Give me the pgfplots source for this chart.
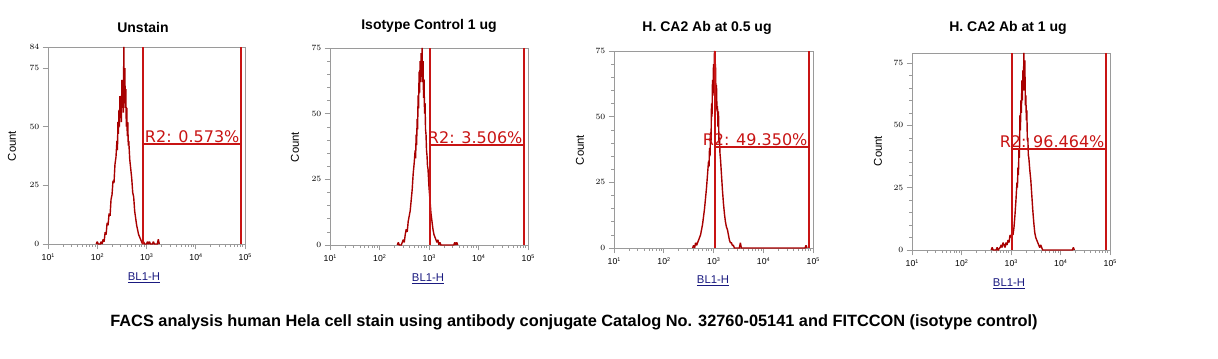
\documentclass[border=0pt]{standalone}
\usepackage{pgfplots}
\pgfplotsset{compat=1.18}
\usepackage{pgfplotstable}
\usepackage{fontspec}
\setmainfont{Liberation Sans}
\newfontfamily\rfont{DejaVu Sans}
\definecolor{histred}{HTML}{A80000}
\definecolor{gatered}{HTML}{C81414}
\definecolor{axgray}{HTML}{9A9A9A}
\definecolor{lblue}{HTML}{1A1A80}

\pgfplotstableread{
e c
1.98 0
2.00 1
2.02 0
2.06 0
2.08 1
2.10 0
2.12 2
2.14 1
2.16 5
2.18 4
2.20 9
2.22 8
2.24 13
2.26 12
2.28 19
2.30 21
2.32 27
2.34 26
2.36 34
2.38 37
2.40 44
2.41 40
2.42 52
2.43 47
2.44 57
2.45 50
2.46 63
2.47 55
2.48 62
2.49 52
2.50 70
2.51 58
2.52 68
2.53 56
2.54 84
2.55 60
2.56 75
2.57 58
2.58 66
2.59 50
2.60 58
2.61 46
2.62 52
2.63 42
2.64 44
2.66 36
2.68 32
2.70 28
2.72 22
2.74 20
2.76 14
2.78 11
2.80 8
2.82 6
2.84 4
2.86 3
2.88 2
2.90 1
2.92 0
2.94 1
2.96 0
3.00 0
3.02 1
3.04 0
3.06 1
3.08 0
3.12 0
3.14 1
3.16 0
3.22 0
3.24 2
3.26 0
}\histA

\pgfplotstableread{
e c
2.36 0
2.38 1
2.40 0
2.44 0
2.46 1
2.48 2
2.50 1
2.52 4
2.54 6
2.56 5
2.58 9
2.60 11
2.62 13
2.64 17
2.66 21
2.68 27
2.70 31
2.72 36
2.73 33
2.74 42
2.75 38
2.76 48
2.77 44
2.78 57
2.79 52
2.80 66
2.81 58
2.82 70
2.83 62
2.84 73
2.85 64
2.86 75
2.87 62
2.88 70
2.89 56
2.90 63
2.91 50
2.92 54
2.93 44
2.94 42
2.95 36
2.96 34
2.97 30
2.98 29
3.00 22
3.02 17
3.04 12
3.06 9
3.08 6
3.10 4
3.12 3
3.14 2
3.16 1
3.18 2
3.20 0
3.22 1
3.24 0
3.50 0
3.52 1
3.54 0
3.56 1
3.58 0
}\histB

\pgfplotstableread{
e c
2.58 0
2.60 1
2.62 0
2.64 2
2.66 1
2.68 2
2.70 3
2.72 4
2.74 5
2.76 7
2.78 9
2.80 12
2.82 15
2.84 19
2.86 23
2.88 28
2.90 33
2.91 31
2.92 38
2.93 35
2.94 44
2.95 40
2.96 55
2.97 50
2.98 64
2.99 58
3.00 70
3.01 66
3.02 75
3.03 64
3.04 70
3.05 58
3.06 62
3.07 52
3.08 54
3.09 46
3.10 52
3.11 40
3.12 42
3.13 36
3.14 34
3.16 28
3.18 22
3.20 17
3.22 13
3.24 10
3.26 8
3.28 7
3.30 5
3.32 3
3.34 2
3.36 2
3.38 1
3.40 1
3.42 0
3.52 0
3.54 2
3.56 0
4.84 0
4.86 1
4.88 0
}\histC

\pgfplotstableread{
e c
2.60 0
2.62 1
2.64 0
2.70 0
2.72 1
2.74 0
2.78 1
2.80 2
2.82 1
2.84 3
2.86 2
2.88 1
2.90 3
2.92 2
2.94 4
2.96 3
2.98 6
3.00 5
3.02 7
3.04 6
3.06 9
3.08 14
3.10 20
3.12 27
3.13 25
3.14 33
3.15 30
3.16 40
3.17 37
3.18 54
3.19 48
3.20 60
3.21 55
3.22 68
3.23 60
3.24 72
3.25 64
3.26 79
3.27 66
3.28 76
3.29 58
3.30 62
3.31 52
3.32 56
3.33 44
3.34 45
3.35 38
3.36 37
3.38 32
3.40 28
3.42 22
3.44 16
3.46 11
3.48 7
3.50 5
3.52 4
3.54 3
3.56 2
3.58 1
3.60 2
3.62 1
3.64 0
4.24 0
4.26 1
4.28 0
}\histD

\newcommand{\dec}[1]{10\raisebox{0.55ex}{\fontsize{4}{4}\selectfont #1}}

\tikzset{
  histsty/.style={draw=histred, line width=1.05pt, line join=miter, miter limit=2},
  gatesty/.style={gatered, line width=1.4pt},
}

\pgfplotsset{
  facs/.style={
    scale only axis,
    width=148pt, height=147.75pt,
    anchor=south west,
    xmin=1, xmax=5, ymin=0,
    axis line style={axgray, line width=0.5pt},
    xtick={1,2,3,4,5},
    xticklabels={\dec{1},\dec{2},\dec{3},\dec{4},\dec{5}},
    minor xtick={1.301,1.477,1.602,1.699,1.778,1.845,1.903,1.954,
                 2.301,2.477,2.602,2.699,2.778,2.845,2.903,2.954,
                 3.301,3.477,3.602,3.699,3.778,3.845,3.903,3.954,
                 4.301,4.477,4.602,4.699,4.778,4.845,4.903,4.954},
    tick align=outside,
    tick style={axgray, line width=0.4pt},
    major tick length=4pt,
    minor tick length=2pt,
    xtick pos=bottom, ytick pos=left,
    minor y tick num=4,
    tick label style={font=\fontsize{6.5}{6.5}\selectfont, black},
    xticklabel style={yshift=0pt},
    yticklabel style={xshift=1pt},
    clip=false,
  },
}

\begin{document}
\begin{tikzpicture}
\path[use as bounding box] (0,0) rectangle (913.5pt,269.25pt);

% Panel 1
\begin{axis}[facs, at={(36pt,86.25pt)}, width=147.75pt, ymax=84, ytick={0,25,50,75,84}]
\addplot[histsty] table[x=e,y=c] {\histA};
\draw[gatesty] (axis cs:2.93,0) -- (axis cs:2.93,84);
\draw[gatesty] (axis cs:4.92,0) -- (axis cs:4.92,84);
\draw[gatesty] (axis cs:2.93,42.6) -- (axis cs:4.92,42.6);
\node[anchor=south east, inner sep=1pt, gatered, font=\rfont\fontsize{12}{12}\selectfont] at (axis cs:4.92,42.6) {R2: 0.573\%};
\end{axis}

% Panel 2
\begin{axis}[facs, at={(247.5pt,85.5pt)}, width=148.5pt, ymax=75, ytick={0,25,50,75}]
\addplot[histsty] table[x=e,y=c] {\histB};
\draw[gatesty] (axis cs:3.02,0) -- (axis cs:3.02,75);
\draw[gatesty] (axis cs:4.92,0) -- (axis cs:4.92,75);
\draw[gatesty] (axis cs:3.02,38) -- (axis cs:4.92,38);
\node[anchor=south east, inner sep=1pt, gatered, font=\rfont\fontsize{12}{12}\selectfont] at (axis cs:4.92,38) {R2: 3.506\%};
\end{axis}

% Panel 3
\begin{axis}[facs, at={(460.5pt,83.25pt)}, width=149.25pt, ymax=75, ytick={0,25,50,75}]
\addplot[histsty] table[x=e,y=c] {\histC};
\draw[gatesty] (axis cs:3.03,0) -- (axis cs:3.03,75);
\draw[gatesty] (axis cs:4.92,0) -- (axis cs:4.92,75);
\draw[gatesty] (axis cs:3.03,38.5) -- (axis cs:4.92,38.5);
\node[anchor=south east, inner sep=1pt, gatered, font=\rfont\fontsize{12}{12}\selectfont] at (axis cs:4.92,38.5) {R2: 49.350\%};
\end{axis}

% Panel 4
\begin{axis}[facs, at={(684pt,81.75pt)}, width=148.5pt, ymax=79, ytick={0,25,50,75}]
\addplot[histsty] table[x=e,y=c] {\histD};
\draw[gatesty] (axis cs:3.02,0) -- (axis cs:3.02,79);
\draw[gatesty] (axis cs:4.92,0) -- (axis cs:4.92,79);
\draw[gatesty] (axis cs:3.02,40.5) -- (axis cs:4.92,40.5);
\node[anchor=south east, inner sep=1pt, gatered, font=\rfont\fontsize{12}{12}\selectfont] at (axis cs:4.92,40.5) {R2: 96.464\%};
\end{axis}

% Titles
\begin{scope}[every node/.style={font=\bfseries\fontsize{10.5}{10.5}\selectfont, inner sep=0pt}]
\node at (107.25pt,248.5pt) {Unstain};
\node at (321.75pt,250pt) {Isotype Control 1 ug};
\node at (530.25pt,248.5pt) {H. CA2 Ab at 0.5 ug};
\node at (756pt,248.5pt) {H. CA2 Ab at 1 ug};
\end{scope}

% Count labels
\begin{scope}[every node/.style={font=\fontsize{8.5}{8.5}\selectfont, rotate=90, inner sep=0pt}]
\node at (9pt,159.75pt) {Count};
\node at (221.25pt,159pt) {Count};
\node at (435pt,156.75pt) {Count};
\node at (658.5pt,156pt) {Count};
\end{scope}

% BL1-H labels
\begin{scope}[every node/.style={font=\fontsize{8.5}{8.5}\selectfont, text=lblue, inner sep=0pt}]
\node at (108pt,61pt) {\underline{BL1-H}};
\node at (321pt,60.25pt) {\underline{BL1-H}};
\node at (534.75pt,58.75pt) {\underline{BL1-H}};
\node at (756.75pt,56.5pt) {\underline{BL1-H}};
\end{scope}

% Caption
\node[font=\bfseries\fontsize{12.25}{12.25}\selectfont, inner sep=0pt] at (430.5pt,27.75pt) {FACS analysis human Hela cell stain using antibody conjugate Catalog No. 32760-05141 and FITCCON (isotype control)};
\end{tikzpicture}
\end{document}
